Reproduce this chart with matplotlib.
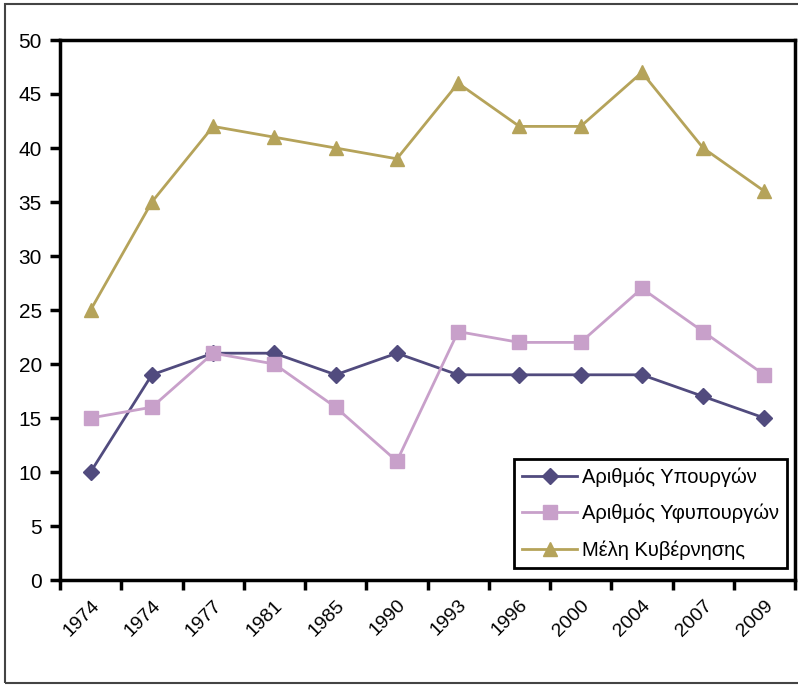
import matplotlib.pyplot as plt
from matplotlib.patches import Rectangle

# data
years = ["1974", "1974", "1977", "1981", "1985", "1990",
         "1993", "1996", "2000", "2004", "2007", "2009"]
ministers = [10, 19, 21, 21, 19, 21, 19, 19, 19, 19, 17, 15]
deputy_ministers = [15, 16, 21, 20, 16, 11, 23, 22, 22, 27, 23, 19]
cabinet_members = [25, 35, 42, 41, 40, 39, 46, 42, 42, 47, 40, 36]

plt.rcParams["font.family"] = ["Liberation Sans", "DejaVu Sans"]

fig = plt.figure(figsize=(7.98, 6.85), dpi=100)
ax = fig.add_axes([60 / 798, 1 - 580 / 685, 735 / 798, 540 / 685])

# outer frame around the whole picture
fig.patches.append(Rectangle((5 / 798, 2 / 685), 1.0, 679 / 685,
                             transform=fig.transFigure, fill=False,
                             edgecolor="#444444", linewidth=1.5))

x = range(len(years))
ax.plot(x, ministers, color="#514B7E", marker="D", markersize=8,
        linewidth=2, label="Αριθμός Υπουργών")
ax.plot(x, deputy_ministers, color="#C8A0CA", marker="s", markersize=10,
        linewidth=2, label="Αριθμός Υφυπουργών")
ax.plot(x, cabinet_members, color="#B5A35A", marker="^", markersize=10,
        linewidth=2, label="Μέλη Κυβέρνησης")

ax.set_xlim(-0.5, len(years) - 0.5)
ax.set_ylim(0, 50)
ax.set_yticks(range(0, 51, 5))

# tick marks on category boundaries, labels at category centres
ax.set_xticks([i - 0.5 for i in range(len(years) + 1)])
ax.set_xticklabels([])
ax.set_xticks(list(x), minor=True)
ax.set_xticklabels(years, minor=True, rotation=45, ha="right", va="top",
                   rotation_mode="anchor", fontsize=14)
ax.tick_params(axis="x", which="minor", length=0, pad=12)
ax.tick_params(axis="x", which="major", length=7, width=2.5, direction="out")
ax.tick_params(axis="y", length=7, width=2.5, direction="out", labelsize=15, pad=6)

for side in ["left", "right", "top", "bottom"]:
    ax.spines[side].set_linewidth(2.5)

leg = ax.legend(loc="lower right", bbox_to_anchor=(0.989, 0.022), fontsize=14.5,
                borderaxespad=0, fancybox=False, framealpha=1, edgecolor="black",
                handlelength=2.7, borderpad=0.4, labelspacing=0.85,
                handletextpad=0.25)
leg.get_frame().set_linewidth(2)

fig.savefig("out.png", dpi=100)
plt.close()
